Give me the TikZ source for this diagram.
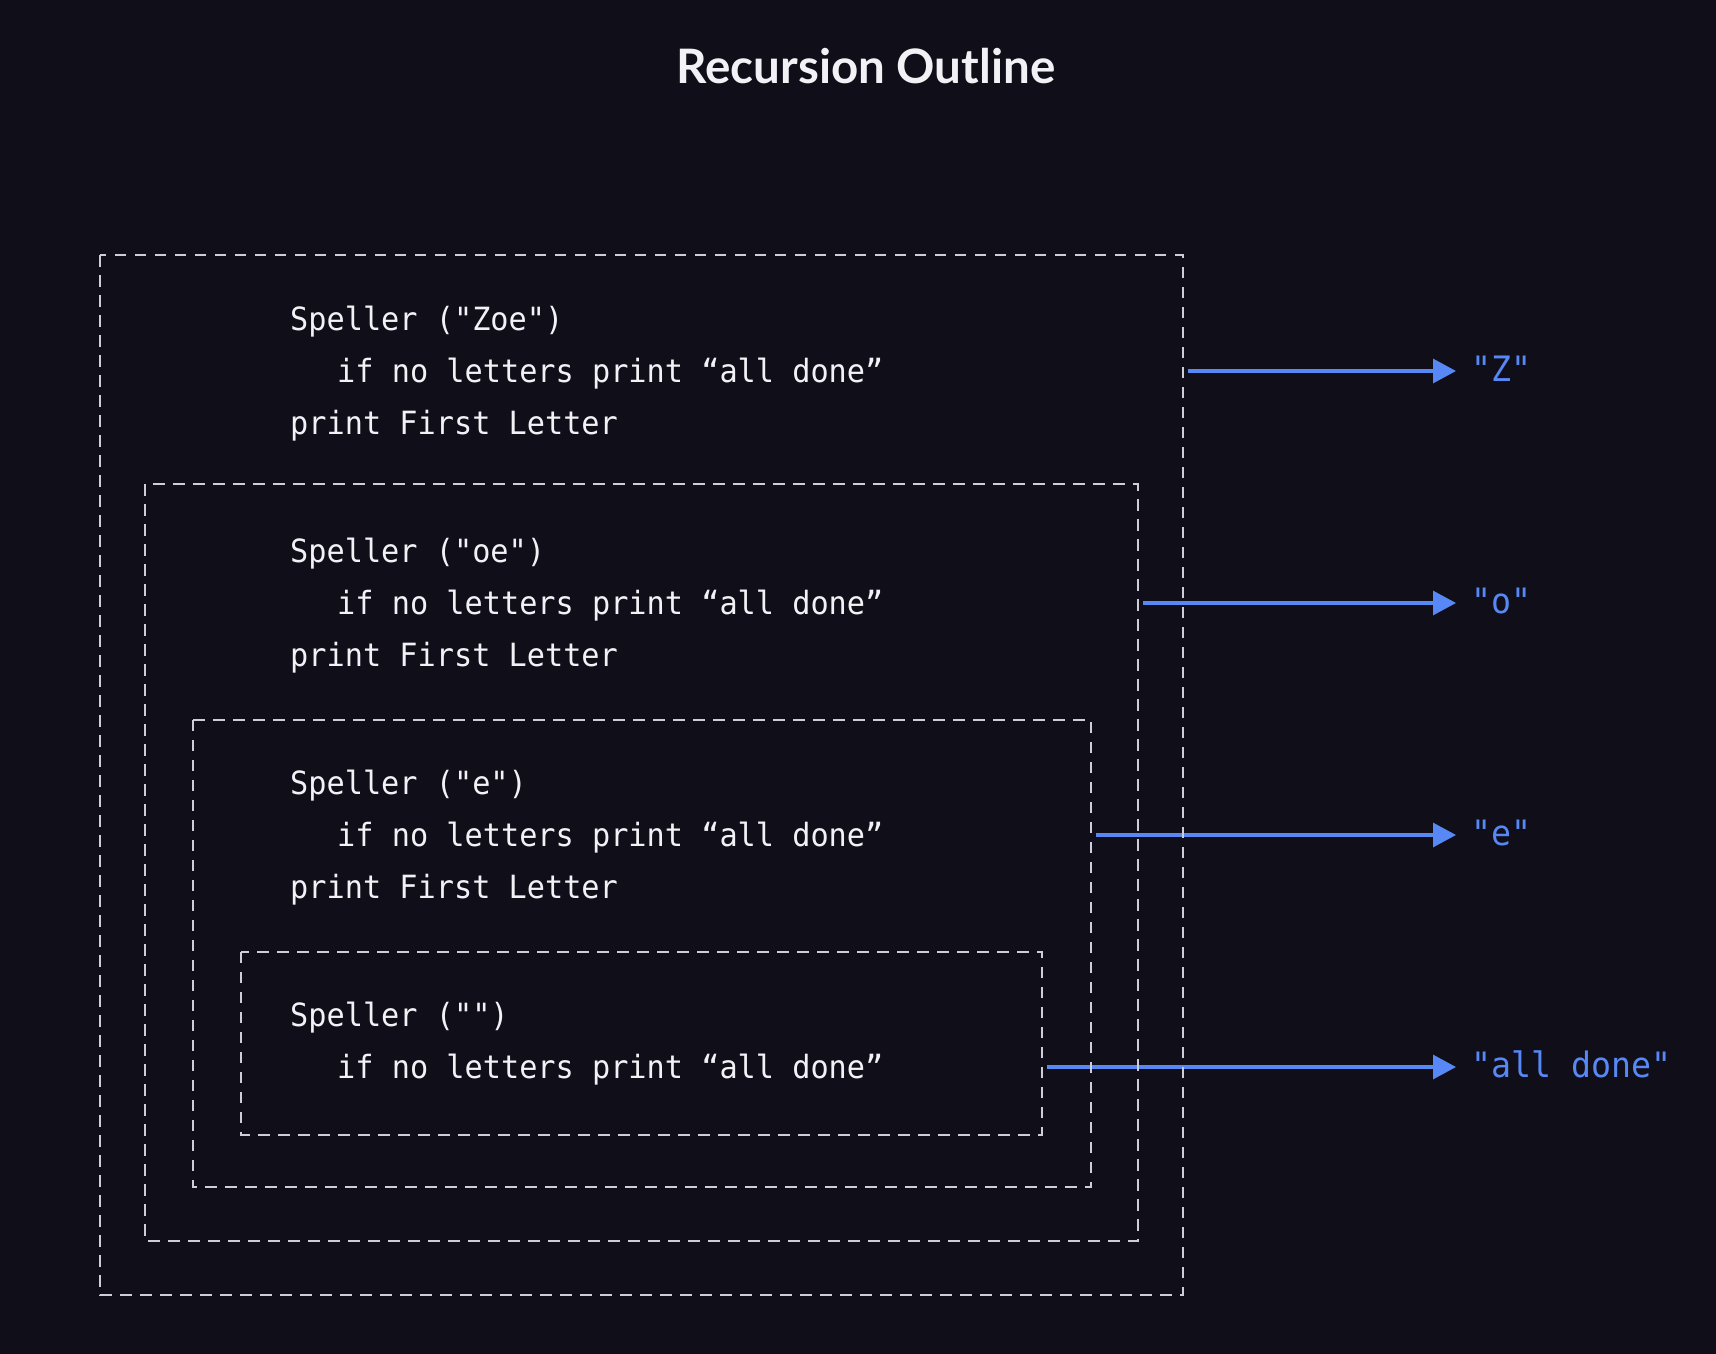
\documentclass[tikz,border=0pt]{standalone}
\usepackage{fontspec}
\usetikzlibrary{arrows.meta}
\newfontfamily\codefont{DejaVu Sans Mono}[FakeStretch=0.945]
\newfontfamily\labelfont{DejaVu Sans Mono}[FakeStretch=0.95]
\newfontfamily\titlefont{Lato}
\definecolor{bg}{RGB}{15,14,25}
\definecolor{dashcol}{RGB}{205,206,218}
\definecolor{txt}{RGB}{242,242,246}
\definecolor{arrowblue}{RGB}{88,136,245}
\tikzset{
  framebox/.style={draw=dashcol, line width=1.8pt, dash pattern=on 11.5pt off 8.5pt},
  codeline/.style={anchor=base west, inner sep=0pt, text=txt, font=\codefont\fontsize{32}{38}\selectfont},
  outlabel/.style={anchor=base west, inner sep=0pt, inner xsep=0pt, text=arrowblue, font=\labelfont\fontsize{35}{40}\selectfont},
  outarrow/.style={draw=arrowblue, line width=3.2pt, -{Triangle[length=23pt,width=24pt]}},
}
\begin{document}
\begin{tikzpicture}[x=1pt,y=-1pt]
\path[fill=bg, use as bounding box] (0,0) rectangle (1716,1354);

\node[anchor=base, inner sep=0pt, text=txt, font=\titlefont\bfseries\fontsize{47.5}{52}\selectfont] (title) at (866,83) {Recursion Outline};

% arrows first (boxes drawn over them)
\coordinate (s1) at (1188,371);
\coordinate (s2) at (1143,603);
\coordinate (s3) at (1096,835);
\coordinate (s4) at (1047,1067);
\node[outlabel] (l1) at (1471,381) {"Z"};
\node[outlabel] (l2) at (1471,613) {"o"};
\node[outlabel] (l3) at (1471,845) {"e"};
\node[outlabel] (l4) at (1471,1077) {"all done"};
\draw[outarrow] (s1) -- ([xshift=-15pt]s1 -| l1.west);
\draw[outarrow] (s2) -- ([xshift=-15pt]s2 -| l2.west);
\draw[outarrow] (s3) -- ([xshift=-15pt]s3 -| l3.west);
\draw[outarrow] (s4) -- ([xshift=-15pt]s4 -| l4.west);

% frames
\draw[framebox] (100,255) rectangle (1183,1295);
\draw[framebox] (145.3,484) rectangle (1138,1241);
\draw[framebox] (192.7,719.7) rectangle (1091,1187.3);
\draw[framebox] (241.3,951.7) rectangle (1042,1134.7);

% code lines
\node[codeline] (a1) at (290,330) {Speller ("Zoe")};
\node[codeline] (a2) at (337,382) {if no letters print “all done”};
\node[codeline] (a3) at (290,434) {print First Letter};

\node[codeline] (b1) at (290,562) {Speller ("oe")};
\node[codeline] (b2) at (337,614) {if no letters print “all done”};
\node[codeline] (b3) at (290,666) {print First Letter};

\node[codeline] (c1) at (290,794) {Speller ("e")};
\node[codeline] (c2) at (337,846) {if no letters print “all done”};
\node[codeline] (c3) at (290,898) {print First Letter};

\node[codeline] (d1) at (290,1026) {Speller ("")};
\node[codeline] (d2) at (337,1078) {if no letters print “all done”};
\end{tikzpicture}
\end{document}
